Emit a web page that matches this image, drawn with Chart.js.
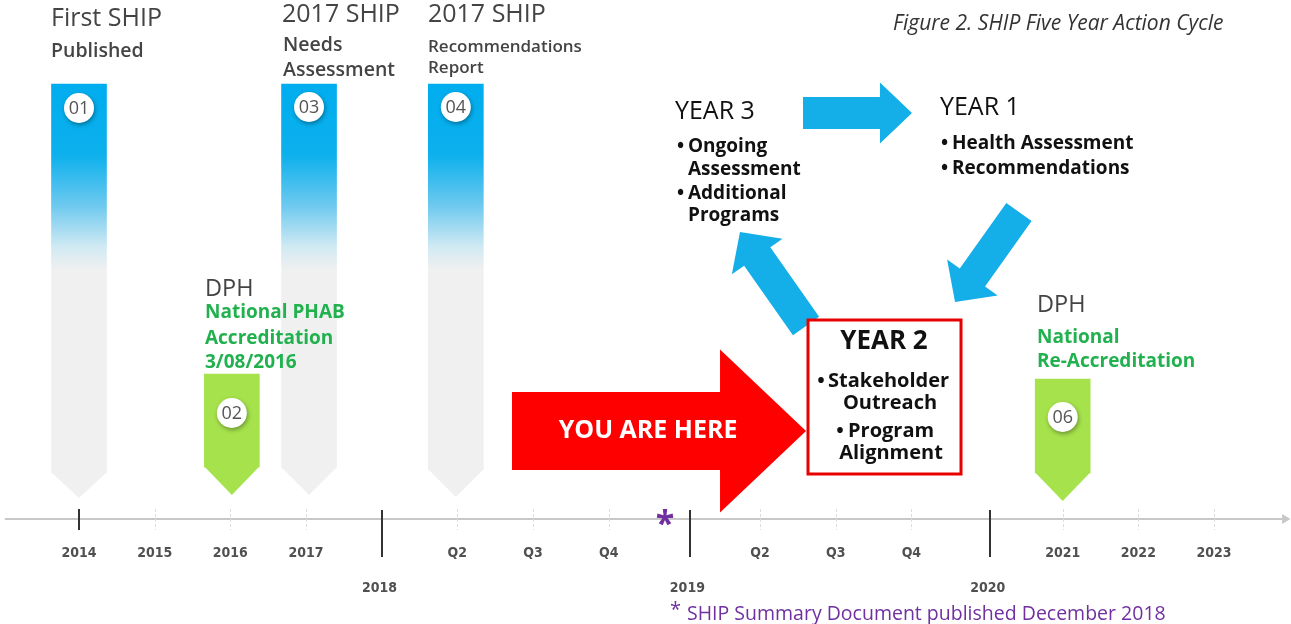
<!DOCTYPE html>
<html>
<head>
<meta charset="utf-8">
<script src="https://cdn.jsdelivr.net/npm/chart.js@4.4.0/dist/chart.umd.min.js"></script>
<style>
  html, body { margin: 0; padding: 0; background: #fff; }
  canvas { display: block; }
</style>
</head>
<body>
<canvas id="chart" width="1291" height="624"></canvas>
<script>
// timeline slots: 0 = 2014, one slot per year / quarter, 15 = 2023
const tickSlots = [0, 1, 2, 3, 5, 6, 7, 9, 10, 11, 13, 14, 15];
const tickLabels = ["2014", "2015", "2016", "2017", "Q2", "Q3", "Q4", "Q2", "Q3", "Q4", "2021", "2022", "2023"];
const majorSlots = [4, 8.07, 12.04];
const majorLabels = ["2018", "2019", "2020"];

// milestone pennants, heights measured above the timeline
const milestoneNames = ["01", "02", "03", "04", "06"];
const milestoneSlots = [0, 2.02, 3.04, 4.98, 13];
const milestoneTops = [435, 145, 435, 435, 140];
const milestoneBottoms = [46, 52, 51, 49, 46];
const milestoneTips = [21, 24, 24, 22, 18];
const milestoneBadges = [411, 106, 412, 412, 102];
const milestoneKinds = ["ship", "dph", "ship", "ship", "dph"];

const BLUE = "#00adef";
const GREY = "#f0f0f0";
const GREEN = "#a6e24c";
const ARROW_BLUE = "#14aee8";
const PURPLE = "#7030a0";
const FONT = '"Open Sans", "DejaVu Sans", sans-serif';
const NARROW = '"Liberation Sans Narrow", "DejaVu Sans Condensed", sans-serif';

function fillColor(c) {
  if (milestoneKinds[c.dataIndex] === "dph") return GREEN;
  const chart = c.chart;
  if (!chart.chartArea) return BLUE;
  const y = chart.scales.y;
  const g = chart.ctx.createLinearGradient(0, y.getPixelForValue(435), 0, y.getPixelForValue(249));
  g.addColorStop(0, BLUE);
  g.addColorStop(0.38, "#0cb0ec");
  g.addColorStop(0.65, "#6cc9ef");
  g.addColorStop(0.88, "#d2eaf3");
  g.addColorStop(1, GREY);
  return g;
}

function put(ctx, str, x, y, font, color, align, base) {
  ctx.font = font;
  ctx.fillStyle = color;
  ctx.textAlign = align || "left";
  ctx.textBaseline = base || "middle";
  ctx.fillText(str, x, y);
}

function arrow(ctx, x0, y0, x1, y1, bw, hw, hl, color) {
  const len = Math.hypot(x1 - x0, y1 - y0);
  const ux = (x1 - x0) / len, uy = (y1 - y0) / len;
  const nx = -uy, ny = ux;
  const bx = x1 - ux * hl, by = y1 - uy * hl;
  ctx.beginPath();
  ctx.moveTo(x0 + nx * bw / 2, y0 + ny * bw / 2);
  ctx.lineTo(bx + nx * bw / 2, by + ny * bw / 2);
  ctx.lineTo(bx + nx * hw / 2, by + ny * hw / 2);
  ctx.lineTo(x1, y1);
  ctx.lineTo(bx - nx * hw / 2, by - ny * hw / 2);
  ctx.lineTo(bx - nx * bw / 2, by - ny * bw / 2);
  ctx.lineTo(x0 - nx * bw / 2, y0 - ny * bw / 2);
  ctx.closePath();
  ctx.fillStyle = color;
  ctx.fill();
}

const timelinePlugin = {
  id: "timeline",
  beforeDatasetsDraw(chart) {
    const ctx = chart.ctx;
    const X = v => chart.scales.x.getPixelForValue(v);
    const Y = h => chart.scales.y.getPixelForValue(h);
    ctx.save();
    // axis line with arrow head
    ctx.strokeStyle = "#c8c8c8";
    ctx.lineWidth = 2;
    ctx.beginPath();
    ctx.moveTo(X(-0.98), Y(0));
    ctx.lineTo(X(15.92), Y(0));
    ctx.stroke();
    ctx.fillStyle = "#c8c8c8";
    ctx.beginPath();
    ctx.moveTo(X(15.9), Y(5));
    ctx.lineTo(X(16.01), Y(0));
    ctx.lineTo(X(15.9), Y(-5));
    ctx.closePath();
    ctx.fill();

    // minor ticks
    ctx.strokeStyle = "#dcdcdc";
    ctx.lineWidth = 1;
    ctx.setLineDash([3, 2]);
    tickSlots.forEach(s => {
      if (s === 0) return;
      const x = Math.round(X(s)) + 0.5;
      ctx.beginPath();
      ctx.moveTo(x, Y(10));
      ctx.lineTo(x, Y(-11));
      ctx.stroke();
    });
    ctx.setLineDash([]);
    ctx.strokeStyle = "#333";
    ctx.lineWidth = 2;
    ctx.beginPath();
    ctx.moveTo(Math.round(X(0)), Y(10));
    ctx.lineTo(Math.round(X(0)), Y(-11));
    ctx.stroke();
    majorSlots.forEach(s => {
      ctx.beginPath();
      ctx.moveTo(Math.round(X(s)), Y(9));
      ctx.lineTo(Math.round(X(s)), Y(-38));
      ctx.stroke();
    });

    tickSlots.forEach((s, i) => {
      put(ctx, tickLabels[i], X(s), Y(-34), "bold 14px " + NARROW, "#505050", "center");
    });
    majorSlots.forEach((s, i) => {
      put(ctx, majorLabels[i], X(s - 0.03), Y(-69), "bold 14px " + NARROW, "#505050", "center");
    });
    ctx.restore();
  }
};

const pennantPlugin = {
  id: "pennants",
  afterDatasetDraw(chart, args) {
    if (args.index !== 0) return;
    const ctx = chart.ctx;
    const Y = h => chart.scales.y.getPixelForValue(h);
    ctx.save();
    args.meta.data.forEach((el, i) => {
      const w = el.width / 2;
      ctx.beginPath();
      ctx.moveTo(el.x - w, el.base - 0.5);
      ctx.lineTo(el.x + w, el.base - 0.5);
      ctx.lineTo(el.x, Y(milestoneTips[i]));
      ctx.closePath();
      ctx.fillStyle = milestoneKinds[i] === "dph" ? GREEN : GREY;
      ctx.fill();
    });
    ctx.restore();
  },
  beforeDatasetDraw(chart, args) {
    if (args.index !== 1) return;
    const ctx = chart.ctx;
    ctx.save();
    ctx.shadowColor = "rgba(0,0,0,0.35)";
    ctx.shadowBlur = 4;
    ctx.shadowOffsetX = 1;
    ctx.shadowOffsetY = 2;
  }
};

const badgeTextPlugin = {
  id: "badgeText",
  afterDatasetDraw(chart, args) {
    if (args.index !== 1) return;
    const ctx = chart.ctx;
    ctx.restore();
    ctx.save();
    args.meta.data.forEach((pt, i) => {
      put(ctx, milestoneNames[i], pt.x, pt.y + 1, "18px " + FONT, "#555", "center");
    });
    ctx.restore();
  }
};

const cyclePlugin = {
  id: "cycle",
  afterDraw(chart) {
    const ctx = chart.ctx;
    const X = v => chart.scales.x.getPixelForValue(v);
    const Y = h => chart.scales.y.getPixelForValue(h);
    ctx.save();

    // "you are here" arrow
    arrow(ctx, X(5.722), Y(88), X(9.608), Y(88), 78, 163, 86, "#ff0000");
    put(ctx, "YOU ARE HERE", X(7.52), Y(88), "bold 25px " + FONT, "#fff", "center");

    // cycle arrows
    arrow(ctx, X(9.568), Y(406), X(11.008), Y(406), 32, 61, 32, ARROW_BLUE);
    arrow(ctx, X(12.422), Y(307), X(11.577), Y(217), 31, 62, 30, ARROW_BLUE);
    arrow(ctx, X(9.608), Y(193), X(8.735), Y(287), 32, 62, 30, ARROW_BLUE);

    // year 2 box
    const bx0 = X(9.634), bx1 = X(11.656), by0 = Y(199), by1 = Y(45);
    ctx.fillStyle = "#fff";
    ctx.fillRect(bx0, by0, bx1 - bx0, by1 - by0);
    ctx.strokeStyle = "#e80000";
    ctx.lineWidth = 3;
    ctx.strokeRect(bx0, by0, bx1 - bx0, by1 - by0);

    const big = "bold 26px " + FONT;
    const body = "bold 20px " + FONT;
    put(ctx, "YEAR 2", X(10.638), Y(177), big, "#111", "center");
    put(ctx, "•", X(9.806), Y(138), body, "#111", "center");
    put(ctx, "Stakeholder", X(9.898), Y(138), body, "#111");
    put(ctx, "Outreach", X(10.718), Y(116), body, "#111", "center");
    put(ctx, "•", X(10.057), Y(88), body, "#111", "center");
    put(ctx, "Program", X(10.163), Y(88), body, "#111");
    put(ctx, "Alignment", X(10.731), Y(66), body, "#111", "center");

    const yearFont = "25px " + FONT;
    const cycFont = "bold 19px " + FONT;
    put(ctx, "YEAR 3", X(7.876), Y(407), yearFont, "#111");
    put(ctx, "•", X(7.95), Y(372), cycFont, "#111", "center");
    put(ctx, "Ongoing", X(8.048), Y(372), cycFont, "#111");
    put(ctx, "Assessment", X(8.048), Y(349), cycFont, "#111");
    put(ctx, "•", X(7.95), Y(325), cycFont, "#111", "center");
    put(ctx, "Additional", X(8.048), Y(325), cycFont, "#111");
    put(ctx, "Programs", X(8.048), Y(303), cycFont, "#111");

    put(ctx, "YEAR 1", X(11.378), Y(411), yearFont, "#111");
    put(ctx, "•", X(11.44), Y(375), cycFont, "#111", "center");
    put(ctx, "Health Assessment", X(11.537), Y(375), cycFont, "#111");
    put(ctx, "•", X(11.44), Y(350), cycFont, "#111", "center");
    put(ctx, "Recommendations", X(11.537), Y(350), cycFont, "#111");

    // milestone captions
    const head = "25px " + FONT;
    const sub = "600 19.5px " + FONT;
    const small = "600 17px " + FONT;
    const grey = "#444";
    put(ctx, "First SHIP", X(-0.37), Y(500), head, grey);
    put(ctx, "Published", X(-0.37), Y(468), sub, grey);
    put(ctx, "2017 SHIP", X(2.683), Y(504), head, grey);
    put(ctx, "Needs", X(2.696), Y(474), sub, grey);
    put(ctx, "Assessment", X(2.696), Y(449), sub, grey);
    put(ctx, "2017 SHIP", X(4.612), Y(504), head, grey);
    put(ctx, "Recommendations", X(4.612), Y(472), small, grey);
    put(ctx, "Report", X(4.612), Y(451), small, grey);

    const dphGreen = "#21b14f";
    const gfont = "bold 19px " + FONT;
    put(ctx, "DPH", X(1.665), Y(230), "23.5px " + FONT, grey);
    put(ctx, "National PHAB", X(1.665), Y(206), gfont, dphGreen);
    put(ctx, "Accreditation", X(1.665), Y(180), gfont, dphGreen);
    put(ctx, "3/08/2016", X(1.665), Y(156), gfont, dphGreen);
    put(ctx, "DPH", X(12.66), Y(214), "23.5px " + FONT, grey);
    put(ctx, "National", X(12.66), Y(181), gfont, dphGreen);
    put(ctx, "Re-Accreditation", X(12.66), Y(157), gfont, dphGreen);

    put(ctx, "Figure 2. SHIP Five Year Action Cycle", X(10.757), Y(495), "italic 21px " + FONT, "#333");

    // summary document marker and footnote
    put(ctx, "*", X(7.744), Y(-16), "bold 34px " + FONT, PURPLE, "center", "alphabetic");
    put(ctx, "*", X(7.81), Y(-91), "20px " + FONT, PURPLE);
    put(ctx, "SHIP Summary Document published December 2018", X(8.035), Y(-95), "19.5px " + FONT, PURPLE);
    ctx.restore();
  }
};

new Chart(document.getElementById("chart"), {
  type: "bar",
  data: {
    datasets: [
      {
        type: "bar",
        label: "Milestones",
        data: milestoneSlots.map((s, i) => ({ x: s, y: [milestoneBottoms[i], milestoneTops[i]] })),
        backgroundColor: fillColor,
        borderWidth: 0,
        barThickness: 55,
        order: 2
      },
      {
        type: "scatter",
        label: "Badges",
        data: milestoneSlots.map((s, i) => ({ x: s, y: milestoneBadges[i] })),
        pointRadius: 15,
        pointBackgroundColor: "#fff",
        pointBorderWidth: 0,
        order: 1
      }
    ]
  },
  options: {
    responsive: false,
    animation: false,
    events: [],
    layout: { padding: 0, autoPadding: false },
    plugins: { legend: { display: false }, tooltip: { enabled: false } },
    scales: {
      x: { type: "linear", min: -1.044, max: 16.017, offset: false, display: false },
      y: { min: -105, max: 519, display: false }
    }
  },
  plugins: [timelinePlugin, pennantPlugin, badgeTextPlugin, cyclePlugin]
});
</script>
</body>
</html>
